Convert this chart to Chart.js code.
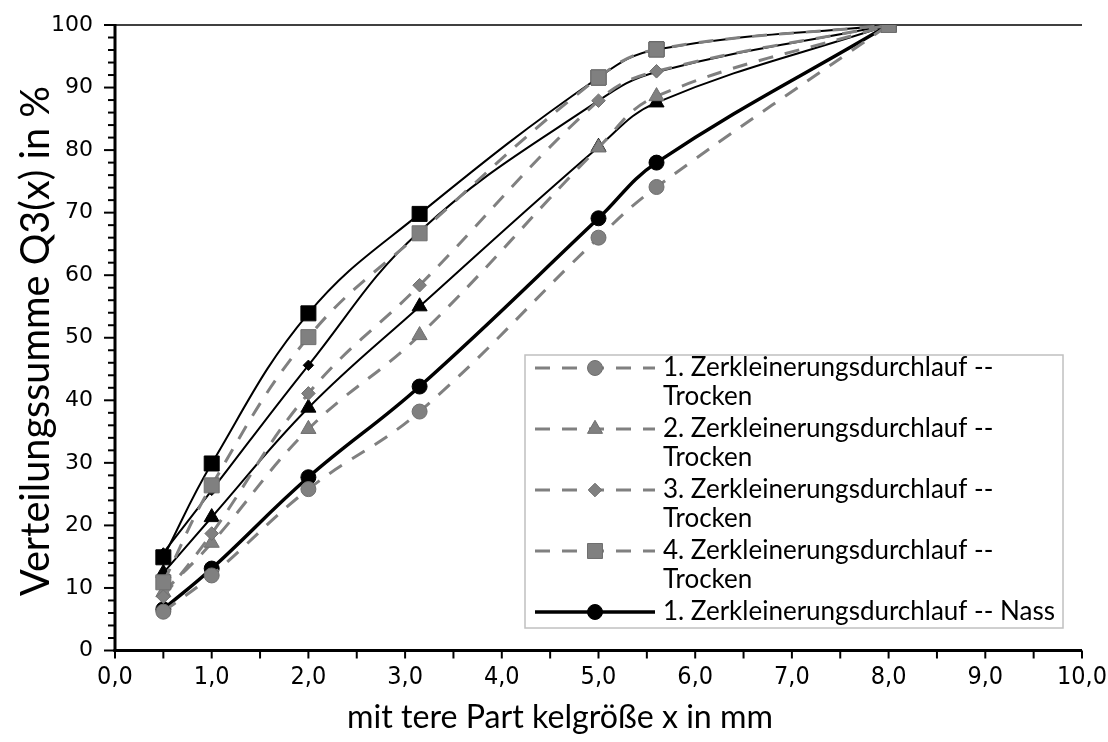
<!DOCTYPE html>
<html><head><meta charset="utf-8">
<script src="https://cdn.jsdelivr.net/npm/chart.js@4/dist/chart.umd.min.js"></script>
<style>html,body{margin:0;padding:0;background:#fff}canvas{display:block}</style>
</head><body>
<canvas id="c" width="1108" height="742"></canvas>
<script>
const xValues = [0.5, 1.0, 2.0, 3.15, 5.0, 5.6, 8.0];
const trocken1 = [6.2, 12.0, 25.8, 38.2, 66.0, 74.1, 100];
const trocken2 = [9.3, 17.2, 35.4, 50.4, 80.4, 88.6, 100];
const trocken3 = [8.6, 18.7, 41.1, 58.4, 87.9, 92.6, 100];
const trocken4 = [10.9, 26.4, 50.1, 66.7, 91.6, 96.1, 100];
const nass1 = [6.6, 13.1, 27.7, 42.2, 69.1, 78.0, 100];
const nass2 = [12.4, 21.3, 38.8, 55.0, 80.5, 87.6, 100];
const nass3 = [15.6, 25.6, 45.6, 67.0, 87.9, 92.5, 100];
const nass4 = [14.9, 29.9, 53.9, 69.8, 91.6, 96.1, 100];
const xTickLabels = ['0,0','1,0','2,0','3,0','4,0','5,0','6,0','7,0','8,0','9,0','10,0'];
const yTickLabels = ['0','10','20','30','40','50','60','70','80','90','100'];
const seriesNames = [
  ['1. Zerkleinerungsdurchlauf --', 'Trocken'],
  ['2. Zerkleinerungsdurchlauf --', 'Trocken'],
  ['3. Zerkleinerungsdurchlauf --', 'Trocken'],
  ['4. Zerkleinerungsdurchlauf --', 'Trocken'],
  ['1. Zerkleinerungsdurchlauf -- Nass'],
  ['2. Zerkleinerungsdurchlauf -- Nass'],
  ['3. Zerkleinerungsdurchlauf -- Nass'],
  ['4. Zerkleinerungsdurchlauf -- Nass']
];
const xTitle = 'mit tere Part kelgröße x in mm';
const yTitle = 'Verteilungssumme Q3(x) in %';

const GREY = '#808080';
function pts(ys){ return xValues.map((x,i)=>({x:x, y:ys[i]})); }
function greyDs(i, ys, style, r){
  return {label: seriesNames[i].join(' '), data: pts(ys), showLine:true, tension:0.4,
    borderColor: GREY, borderWidth:3, borderDash:[15,12],
    pointStyle: style, pointRadius: r, pointBackgroundColor: GREY, pointBorderColor:'#6f6f6f', pointBorderWidth:1,
    order: 4 - (i), _legend: true};
}
function blackDs(i, ys, style, r, lw, legend){
  return {label: seriesNames[i].join(' '), data: pts(ys), showLine:true, tension:0.4,
    borderColor: '#000', borderWidth: lw,
    pointStyle: style, pointRadius: r, pointBackgroundColor:'#000', pointBorderColor: '#000', pointBorderWidth:1,
    order: 20 - i, _legend: legend};
}
const datasets = [
  greyDs(0, trocken1, 'circle', 7.5),
  greyDs(1, trocken2, 'triangle', 8.7),
  greyDs(2, trocken3, 'rectRot', 6.8),
  greyDs(3, trocken4, 'rect', 10.6),
  blackDs(4, nass1, 'circle', 7.5, 3.5, true),
  blackDs(5, nass2, 'triangle', 8.7, 2, false),
  blackDs(6, nass3, 'rectRot', 5.2, 2, false),
  blackDs(7, nass4, 'rect', 10.6, 2, false)
];

const mctx = document.createElement('canvas').getContext('2d');
function fitSize(text, family, target){
  mctx.font = '100px ' + family;
  return 100 * target / mctx.measureText(text).width;
}
const TITLE_FONT = 'Lato, "Open Sans", sans-serif';
const yTitleSize = fitSize(yTitle, TITLE_FONT, 510);
const xTitleSize = fitSize(xTitle, TITLE_FONT, 426);
const legendSize = fitSize(seriesNames[4][0], TITLE_FONT, 392);

function drawMarker(ctx, style, r, x, y, fill, stroke){
  ctx.save();
  ctx.fillStyle = fill; ctx.strokeStyle = stroke; ctx.lineWidth = 1; ctx.setLineDash([]);
  ctx.beginPath();
  if (style === 'circle') ctx.arc(x, y, r, 0, Math.PI*2);
  else if (style === 'triangle') {
    ctx.moveTo(x, y - r);
    ctx.lineTo(x + r*Math.sin(Math.PI*2/3), y - r*Math.cos(Math.PI*2/3));
    ctx.lineTo(x - r*Math.sin(Math.PI*2/3), y - r*Math.cos(Math.PI*2/3));
    ctx.closePath();
  } else if (style === 'rectRot') {
    ctx.moveTo(x, y - r); ctx.lineTo(x + r, y); ctx.lineTo(x, y + r); ctx.lineTo(x - r, y); ctx.closePath();
  } else {
    const s = r * Math.SQRT1_2; ctx.rect(x - s, y - s, 2*s, 2*s);
  }
  ctx.fill(); ctx.stroke();
  ctx.restore();
}

const decor = {
  id: 'decor',
  beforeDatasetsDraw(chart){
    const ctx = chart.ctx, xs = chart.scales.x, ys = chart.scales.y;
    const L = xs.getPixelForValue(0), R = xs.getPixelForValue(10);
    const T = ys.getPixelForValue(100), B = ys.getPixelForValue(0);
    ctx.save();
    ctx.strokeStyle = '#000';
    ctx.lineWidth = 1.5;
    ctx.beginPath(); ctx.moveTo(L, T); ctx.lineTo(R, T); ctx.stroke();
    ctx.lineWidth = 2;
    for (let v = 0; v <= 100; v += 2) {
      const py = ys.getPixelForValue(v);
      const len = (v % 10 === 0) ? 11 : 7;
      ctx.beginPath(); ctx.moveTo(L - len, py); ctx.lineTo(L, py); ctx.stroke();
    }
    for (let v = 0; v <= 10; v += 0.5) {
      const px = xs.getPixelForValue(v);
      ctx.beginPath(); ctx.moveTo(px, B); ctx.lineTo(px, B + 8); ctx.stroke();
    }
    ctx.lineWidth = 3;
    ctx.beginPath(); ctx.moveTo(L, T - 1); ctx.lineTo(L, B + 1.5); ctx.stroke();
    ctx.beginPath(); ctx.moveTo(L - 1.5, B); ctx.lineTo(R, B); ctx.stroke();
    ctx.fillStyle = '#000';
    ctx.textAlign = 'center'; ctx.textBaseline = 'middle';
    ctx.font = yTitleSize.toFixed(2) + 'px ' + TITLE_FONT;
    ctx.save(); ctx.translate(36, 341); ctx.rotate(-Math.PI/2); ctx.fillText(yTitle, 0, 0); ctx.restore();
    ctx.font = xTitleSize.toFixed(2) + 'px ' + TITLE_FONT;
    ctx.fillText(xTitle, 560, 718);
    ctx.restore();
  },
  afterDatasetsDraw(chart){
    const ctx = chart.ctx;
    ctx.save();
    ctx.fillStyle = '#fff';
    ctx.fillRect(525, 355, 538, 273);
    ctx.strokeStyle = '#c0c0c0'; ctx.lineWidth = 1.5;
    ctx.strokeRect(525, 355, 538, 273);
    const rows = [368, 429, 490, 551, 612];
    const items = chart.data.datasets.map((d,i)=>({d,i})).filter(o=>o.d._legend);
    items.forEach((o, k) => {
      const d = o.d, y = rows[k];
      ctx.save();
      ctx.strokeStyle = d.borderColor; ctx.lineWidth = d.borderWidth;
      ctx.setLineDash(d.borderDash || []);
      ctx.beginPath(); ctx.moveTo(535, y); ctx.lineTo(655, y); ctx.stroke();
      ctx.restore();
      drawMarker(ctx, d.pointStyle, d.pointRadius, 595, y, d.pointBackgroundColor, d.pointBorderColor);
      ctx.fillStyle = '#000'; ctx.textAlign = 'left'; ctx.textBaseline = 'middle';
      ctx.font = legendSize.toFixed(2) + 'px ' + TITLE_FONT;
      seriesNames[o.i].forEach((line, j) => ctx.fillText(line, 663, y + j * 28.5));
    });
    ctx.restore();
  }
};

new Chart(document.getElementById('c'), {
  type: 'scatter',
  data: { datasets },
  options: {
    responsive: false, animation: false, devicePixelRatio: 1,
    layout: { padding: { left: 0, top: 25, right: 26, bottom: 0 } },
    plugins: { legend: { display: false }, tooltip: { enabled: false } },
    scales: {
      x: { type: 'linear', min: 0, max: 10,
        grid: { display: false, drawTicks: false }, border: { display: false },
        ticks: { stepSize: 1, padding: 12, color: '#000',
          font: { family: '"DejaVu Sans Condensed", "Liberation Sans Narrow", sans-serif', size: 25 },
          callback: (v) => xTickLabels[Math.round(v)] },
        afterFit: (s) => { s.height = 91.5; s.paddingLeft = 0; s.paddingRight = 0; } },
      y: { type: 'linear', min: 0, max: 100,
        grid: { display: false, drawTicks: false }, border: { display: false },
        ticks: { stepSize: 10, padding: 22, color: '#000',
          font: { family: '"DejaVu Sans", Verdana, sans-serif', size: 22 },
          callback: (v) => yTickLabels[Math.round(v / 10)] },
        afterFit: (s) => { s.width = 115; s.paddingTop = 0; s.paddingBottom = 0; } }
    }
  },
  plugins: [decor]
});
</script>
</body></html>
